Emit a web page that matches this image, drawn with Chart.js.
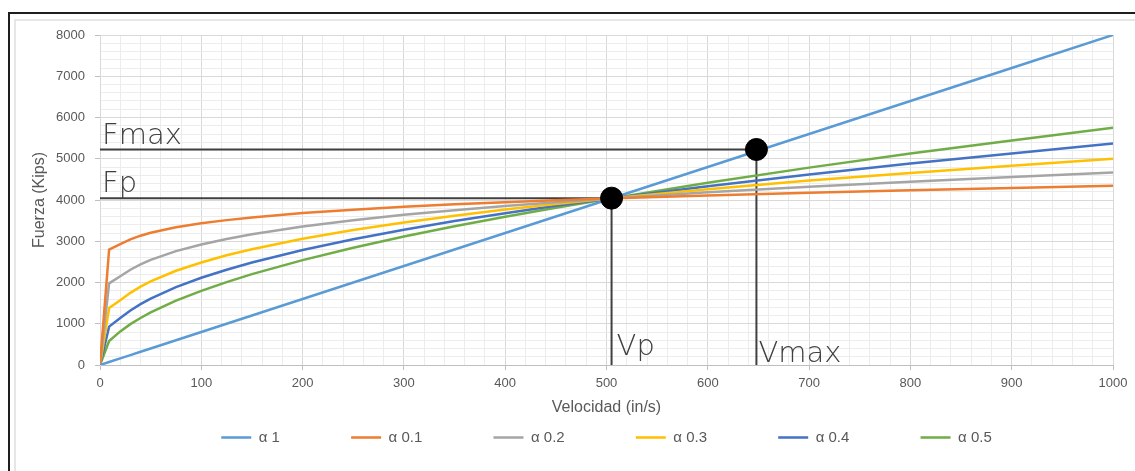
<!DOCTYPE html>
<html>
<head>
<meta charset="utf-8">
<script src="https://cdn.jsdelivr.net/npm/chart.js@4/dist/chart.umd.min.js"></script>
<style>
  html, body { margin: 0; padding: 0; background: #fff; }
  .frame { position: absolute; left: 8px; top: 12px; right: 0; bottom: 0;
           border-left: 2px solid #1e1e1e; border-top: 2px solid #1e1e1e; }
  .frame-in { position: absolute; left: 4px; top: 5px; right: 0; bottom: 0;
              border-left: 2px solid #e6e6e6; border-top: 2px solid #e6e6e6; }
  #wrap { position: absolute; left: 0; top: 0; width: 1135px; height: 471px; }
</style>
</head>
<body>
<div class="frame"><div class="frame-in"></div></div>
<div id="wrap"><canvas id="fuerzaChart"></canvas></div>
<script>
// velocidad (in/s) sample points
const velocidad = [0, 9, 20, 30, 40, 50, 75, 100, 125, 150, 200, 250, 300, 350, 400, 450, 500, 600, 700, 800, 900, 1000];

const alpha1 = [0, 72, 160, 240, 320, 400, 600, 800, 1000, 1200, 1600, 2000, 2400, 2800, 3200, 3600, 4000, 4800, 5600, 6400, 7200, 8000];
const alpha01 = [0, 2800, 2930, 3046, 3135, 3206, 3339, 3436, 3512, 3578, 3683, 3766, 3835, 3895, 3947, 3994, 4036, 4110, 4174, 4235, 4290, 4345];
const alpha02 = [0, 1980, 2150, 2310, 2440, 2550, 2760, 2922, 3055, 3169, 3357, 3510, 3640, 3754, 3856, 3948, 4032, 4185, 4320, 4445, 4555, 4665];
const alpha03 = [0, 1380, 1570, 1750, 1900, 2025, 2285, 2485, 2660, 2807, 3060, 3272, 3456, 3619, 3767, 3903, 4028, 4260, 4470, 4655, 4830, 5000];
const alpha04 = [0, 930, 1140, 1320, 1475, 1610, 1890, 2114, 2310, 2486, 2789, 3050, 3280, 3489, 3680, 3858, 4024, 4335, 4620, 4885, 5130, 5370];
const alpha05 = [0, 580, 815, 990, 1140, 1275, 1560, 1798, 2010, 2202, 2542, 2843, 3114, 3363, 3596, 3814, 4020, 4420, 4785, 5125, 5445, 5750];

const seriesLabels = ["α 1", "α 0.1", "α 0.2", "α 0.3", "α 0.4", "α 0.5"];
const seriesColors = ["#5b9bd5", "#ed7d31", "#a5a5a5", "#ffc000", "#4472c4", "#70ad47"];

// puntos de referencia
const vp = 505;
const fp = 4045;
const vmax = 648;
const fmax = 5225;
const markLabels = ["Fmax", "Fp", "Vp", "Vmax"];

const toPoints = (ys) => velocidad.map((v, i) => ({ x: v, y: ys[i] }));

const curveDatasets = [alpha1, alpha01, alpha02, alpha03, alpha04, alpha05].map((ys, i) => ({
  label: seriesLabels[i],
  data: toPoints(ys),
  borderColor: seriesColors[i],
  backgroundColor: seriesColors[i],
  borderWidth: 2.5,
  pointRadius: 0,
  tension: 0,
  order: 2,
}));

const guide = (pts) => ({
  data: pts,
  borderColor: "#404040",
  borderWidth: 2,
  pointRadius: 0,
  order: 3,
});

const guideDatasets = [
  guide([{ x: 0, y: fmax }, { x: vmax, y: fmax }]),
  guide([{ x: vmax, y: fmax }, { x: vmax, y: 0 }]),
  guide([{ x: 0, y: fp }, { x: vp, y: fp }]),
  guide([{ x: vp, y: fp }, { x: vp, y: 0 }]),
  {
    data: [{ x: vp, y: fp }, { x: vmax, y: fmax }],
    showLine: false,
    pointRadius: 11,
    pointBackgroundColor: "#000",
    pointBorderColor: "#000",
    order: 0,
  },
];

const markText = {
  id: "markText",
  afterLayout(chart) {
    // center the legend under the plot area like the original
    if (chart.legend) chart.legend.left = chart.chartArea.left;
  },
  afterDatasetsDraw(chart) {
    const { ctx, scales: { x, y } } = chart;
    ctx.save();
    ctx.fillStyle = "#404040";
    ctx.font = '200 29px "DejaVu Sans"';
    ctx.textBaseline = "alphabetic";
    ctx.textAlign = "left";
    ctx.fillText(markLabels[0], x.getPixelForValue(0) + 2, y.getPixelForValue(fmax) - 5);
    ctx.fillText(markLabels[1], x.getPixelForValue(0) + 2, y.getPixelForValue(fp) - 6);
    ctx.fillText(markLabels[2], x.getPixelForValue(vp) + 5, y.getPixelForValue(0) - 10);
    ctx.fillText(markLabels[3], x.getPixelForValue(vmax) + 2, y.getPixelForValue(0) - 3);
    ctx.restore();
  },
};

const textColor = "#595959";
const minorGrid = "#ececec";
const majorGrid = "#d9d9d9";

new Chart(document.getElementById("fuerzaChart"), {
  type: "line",
  data: { datasets: [...curveDatasets, ...guideDatasets] },
  options: {
    responsive: true,
    maintainAspectRatio: false,
    animation: false,
    layout: { padding: { left: 0, right: 22, top: 35, bottom: 16 } },
    scales: {
      x: {
        type: "linear",
        min: 0,
        max: 1000,
        afterFit: (scale) => { scale.height = 58; },
        ticks: {
          stepSize: 20,
          autoSkip: false,
          maxRotation: 0,
          padding: 6,
          color: textColor,
          font: { family: "Liberation Sans", size: 13 },
          callback: (v) => (v % 100 === 0 ? String(v) : ""),
        },
        grid: {
          color: (c) => (c.tick && c.tick.value % 100 === 0 ? majorGrid : minorGrid),
          tickColor: (c) => (c.tick && c.tick.value % 100 === 0 ? "#bfbfbf" : "rgba(0,0,0,0)"),
          tickLength: 5,
        },
        border: { color: "#bfbfbf" },
        title: {
          display: true,
          text: "Velocidad (in/s)",
          color: textColor,
          font: { family: "Liberation Sans", size: 16 },
          padding: { top: 0, bottom: 6 },
        },
      },
      y: {
        min: 0,
        max: 8000,
        afterFit: (scale) => { scale.width = 100; },
        ticks: {
          stepSize: 200,
          autoSkip: false,
          padding: 10,
          color: textColor,
          font: { family: "Liberation Sans", size: 13 },
          callback: (v) => (v % 1000 === 0 ? String(v) : ""),
        },
        grid: {
          color: (c) => (c.tick && c.tick.value % 1000 === 0 ? majorGrid : minorGrid),
          tickColor: (c) => (c.tick && c.tick.value % 1000 === 0 ? "#bfbfbf" : "rgba(0,0,0,0)"),
          tickLength: 5,
        },
        border: { color: majorGrid },
        title: {
          display: true,
          text: "Fuerza (Kips)",
          color: textColor,
          font: { family: "Liberation Sans", size: 16 },
          padding: { top: 30, bottom: 0 },
        },
      },
    },
    plugins: {
      tooltip: { enabled: false },
      legend: {
        position: "bottom",
        labels: {
          color: textColor,
          font: { family: "Liberation Sans", size: 15 },
          boxWidth: 30,
          boxHeight: 0,
          padding: 7,
          generateLabels: (chart) =>
            Chart.defaults.plugins.legend.labels
              .generateLabels(chart)
              .filter((item) => seriesLabels.includes(item.text))
              .map((item, i, all) => ({
                ...item,
                lineWidth: 2.5,
                text: i < all.length - 1 ? item.text + "\u2003\u2003\u2003\u2003 " : item.text,
              })),
        },
      },
    },
  },
  plugins: [markText],
});
</script>
</body>
</html>
